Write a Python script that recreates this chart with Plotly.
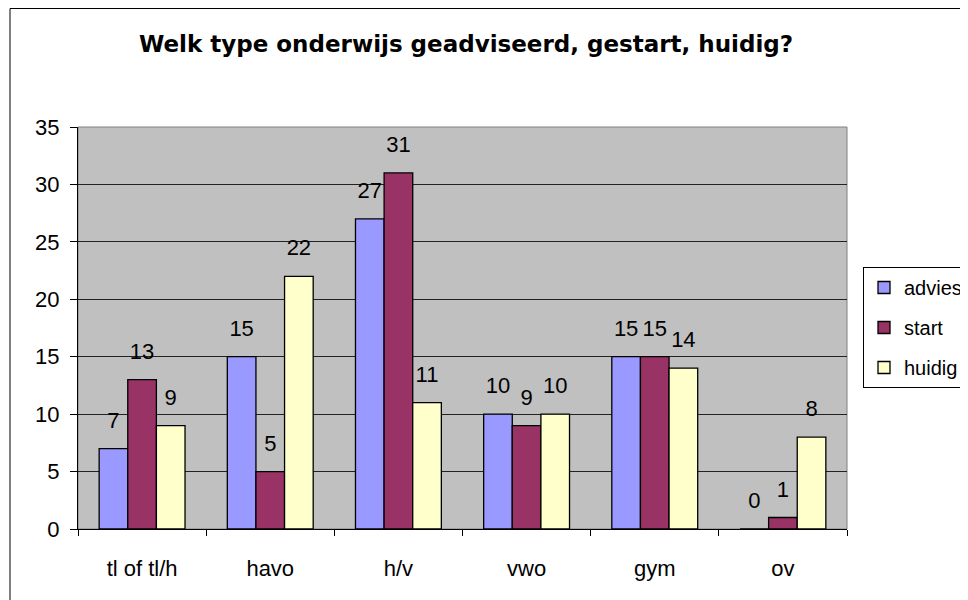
import plotly.graph_objects as go

categories = ["tl of tl/h", "havo", "h/v", "vwo", "gym", "ov"]
advies = [7, 15, 27, 10, 15, 0]
start = [13, 5, 31, 9, 15, 1]
huidig = [9, 22, 11, 10, 14, 8]
series_names = ["advies", "start", "huidig"]
series_values = [advies, start, huidig]
series_colors = ["#9999FF", "#993366", "#FFFFCC"]
y_ticks = [0, 5, 10, 15, 20, 25, 30, 35]

FONT = "Liberation Sans, Arial, sans-serif"
TITLE_FONT = "DejaVu Sans, Verdana, sans-serif"

fig = go.Figure()
for name, vals, col in zip(series_names, series_values, series_colors):
    fig.add_trace(go.Bar(
        x=categories, y=vals, name=name, legendgroup=name, offsetgroup=name,
        marker=dict(color=col, line=dict(color="black", width=1.3)),
        hoverinfo="x+y+name",
    ))
for name, vals in zip(series_names, series_values):
    fig.add_trace(go.Scatter(
        x=categories, y=vals, mode="markers+text", offsetgroup=name,
        text=[str(v) for v in vals], textposition="top center",
        marker=dict(size=23, color="rgba(0,0,0,0)"),
        textfont=dict(size=22, color="black", family=FONT),
        showlegend=False, hoverinfo="skip", cliponaxis=False,
    ))

fig.update_layout(
    width=968, height=600,
    margin=dict(l=70, r=129, t=119, b=79, autoexpand=False),
    paper_bgcolor="white", plot_bgcolor="#C0C0C0",
    font=dict(family=FONT, size=22, color="black"),
    title=dict(text="<b>Welk type onderwijs geadviseerd, gestart, huidig?</b>",
               x=458 / 968, xanchor="center", xref="container",
               y=1 - 36 / 600, yanchor="middle", yref="container",
               font=dict(size=23, family=TITLE_FONT, color="black")),
    barmode="group", bargap=0.33, bargroupgap=0,
    scattermode="group", scattergap=0.33,
    showlegend=True,
    legend=dict(x=(863 - 78) / 769, xanchor="left",
                y=(529 - 267) / 402, yanchor="top",
                bordercolor="black", borderwidth=1, bgcolor="white",
                font=dict(size=20, family=FONT), tracegroupgap=11,
                itemwidth=30),
    xaxis=dict(showline=True, linecolor="black", linewidth=1,
               ticks="outside", ticklen=6, tickcolor="black",
               tickson="boundaries", showgrid=False,
               ticklabelstandoff=20, tickfont=dict(size=22)),
    yaxis=dict(range=[0, 35], tickvals=y_ticks, showline=True,
               linecolor="black", linewidth=1, ticks="outside", ticklen=7,
               tickcolor="black", showgrid=True, gridcolor="#222222",
               gridwidth=1, zeroline=False, ticklabelstandoff=6,
               tickfont=dict(size=22)),
    shapes=[
        dict(type="rect", xref="paper", yref="paper", x0=0, x1=1, y0=0, y1=1,
             line=dict(color="#808080", width=1), layer="below"),
        dict(type="rect", xref="paper", yref="paper",
             x0=(2 - 70) / 769, x1=1.3, y0=-0.3, y1=1 + (119 - 0.5) / 402,
             line=dict(color="black", width=1), layer="below"),
    ],
)

fig.write_html("out.html")
